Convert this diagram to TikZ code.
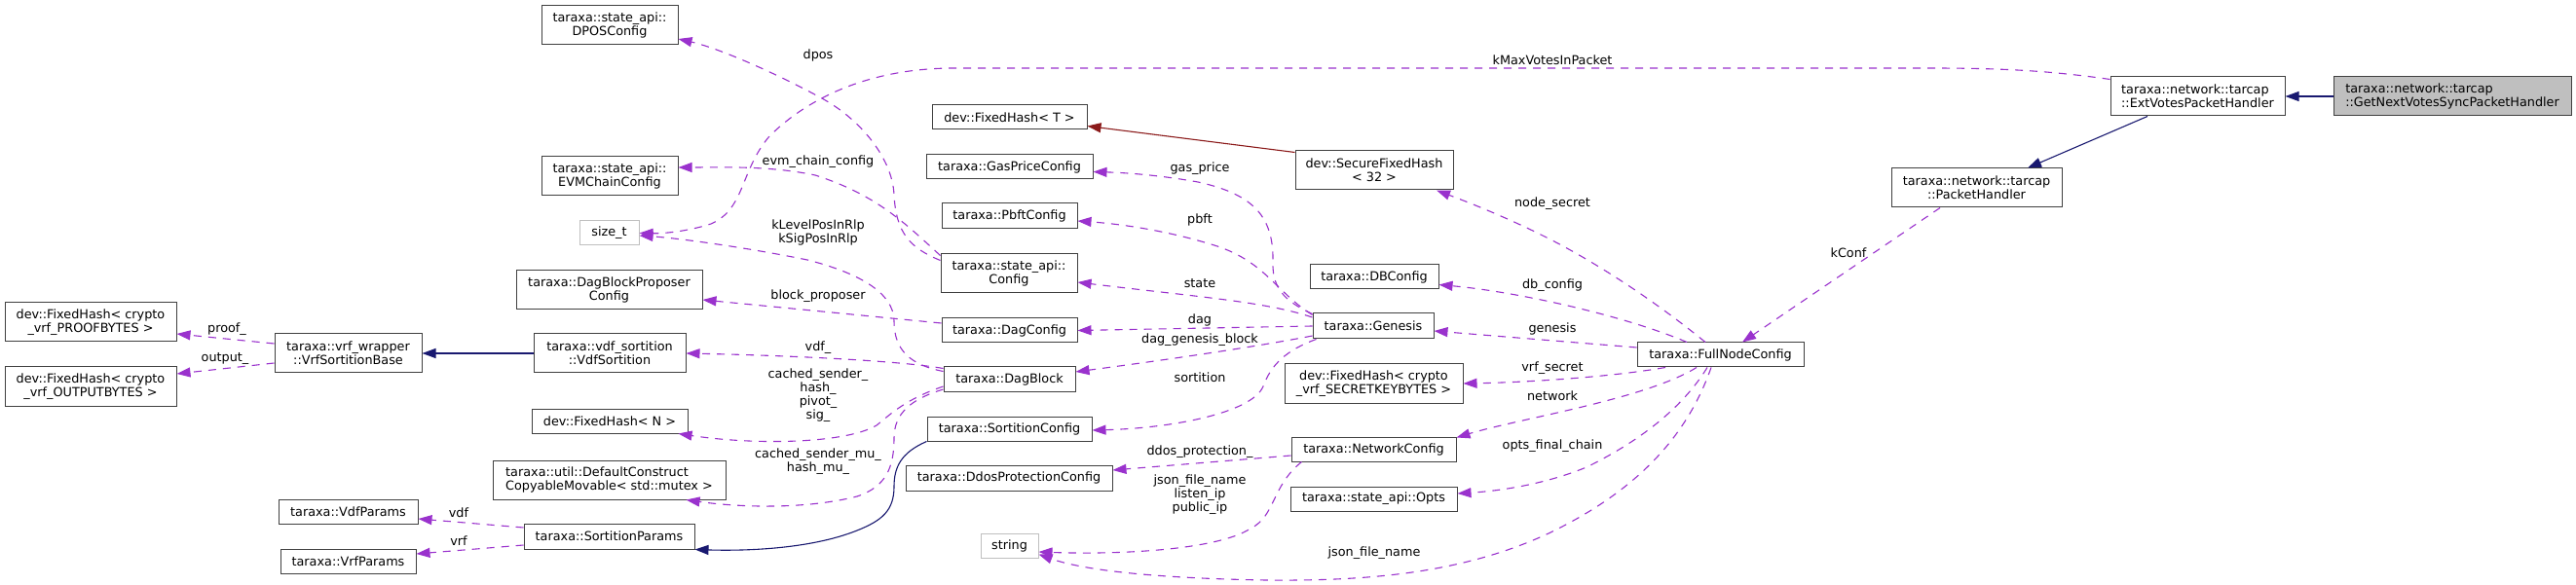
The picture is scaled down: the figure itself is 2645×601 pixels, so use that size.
\documentclass[tikz,border=0pt]{standalone}
\usepackage{fontspec}
\setmainfont{DejaVu Sans}
\usetikzlibrary{arrows.meta}
\definecolor{edgeuse}{HTML}{9A32CD}
\definecolor{edgeinh}{HTML}{191970}
\definecolor{edgepriv}{HTML}{8B1A1A}
\definecolor{greyfill}{HTML}{BFBFBF}
\definecolor{boxline}{HTML}{404040}
\begin{document}
\begin{tikzpicture}[x=1pt,y=-1pt,
  font=\fontsize{12.8}{14}\selectfont,
  box/.style n args={2}{draw=boxline, line width=1pt, inner sep=0pt, minimum width=#1, minimum height=#2, align=center},
  lbox/.style n args={2}{box={#1}{#2}, align=left},
  gbox/.style n args={2}{box={#1}{#2}, draw=greyfill},
  mainbox/.style n args={2}{box={#1}{#2}, fill=greyfill, align=left},
  lbl/.style={inner sep=0pt, align=center},
  usage/.style={draw=edgeuse, line width=1.1pt, dash pattern=on 8pt off 7pt, -{Triangle[length=14pt,width=10pt,fill=edgeuse]}},
  inh/.style={draw=edgeinh, line width=1.1pt, -{Triangle[length=14pt,width=10pt,fill=edgeinh]}},
  priv/.style={draw=edgepriv, line width=1.1pt, -{Triangle[length=14pt,width=10pt,fill=edgepriv]}}
]
\useasboundingbox (0,0) rectangle (2645,601);
\fill[white] (0,0) rectangle (2645,601);

% nodes
\node[box={140pt}{40pt}] (dpos) at (626,26) {taraxa::state\_api::\\DPOSConfig};
\node[box={140pt}{40pt}] (evm) at (626,181) {taraxa::state\_api::\\EVMChainConfig};
\node[gbox={61pt}{25pt}] (sizet) at (625.5,239.5) {size\_t};
\node[box={191pt}{40pt}] (dbpc) at (625.5,298) {taraxa::DagBlockProposer\\Config};
\node[box={176pt}{40pt}] (proof) at (93,331) {dev::FixedHash< crypto\\\_vrf\_PROOFBYTES >};
\node[box={176pt}{40pt}] (output) at (93,397) {dev::FixedHash< crypto\\\_vrf\_OUTPUTBYTES >};
\node[box={151pt}{40pt}] (vrfbase) at (357.5,363) {taraxa::vrf\_wrapper\\::VrfSortitionBase};
\node[box={156pt}{40pt}] (vdfsort) at (626,363) {taraxa::vdf\_sortition\\::VdfSortition};
\node[box={160pt}{25pt}] (fhN) at (626,432.5) {dev::FixedHash< N >};
\node[lbox={239pt}{40pt}] (dcm) at (625.5,493) {taraxa::util::DefaultConstruct\\CopyableMovable< std::mutex >};
\node[box={143pt}{25pt}] (vdfp) at (357.5,525.5) {taraxa::VdfParams};
\node[box={139pt}{25pt}] (vrfp) at (357.5,576.5) {taraxa::VrfParams};
\node[box={175pt}{26pt}] (sortp) at (625.5,551) {taraxa::SortitionParams};

\node[box={159pt}{25pt}] (fhT) at (1036.5,120.5) {dev::FixedHash< T >};
\node[box={171pt}{25pt}] (gasp) at (1036.5,171.5) {taraxa::GasPriceConfig};
\node[box={139pt}{26pt}] (pbft) at (1036.5,222) {taraxa::PbftConfig};
\node[box={140pt}{40pt}] (sconf) at (1036,281) {taraxa::state\_api::\\Config};
\node[box={139pt}{25pt}] (dagc) at (1036.5,339.5) {taraxa::DagConfig};
\node[box={135pt}{26pt}] (dagb) at (1036.5,390) {taraxa::DagBlock};
\node[box={169pt}{25pt}] (sortc) at (1036.5,440.5) {taraxa::SortitionConfig};
\node[box={212pt}{26pt}] (ddos) at (1036,491) {taraxa::DdosProtectionConfig};
\node[gbox={59pt}{25pt}] (string) at (1036.5,560.5) {string};

\node[box={162pt}{40pt}] (sfh) at (1411,175) {dev::SecureFixedHash\\< 32 >};
\node[box={132pt}{25pt}] (dbc) at (1411,284.5) {taraxa::DBConfig};
\node[box={124pt}{26pt}] (gen) at (1410,335) {taraxa::Genesis};
\node[box={183pt}{40pt}] (fhS) at (1410.5,394) {dev::FixedHash< crypto\\\_vrf\_SECRETKEYBYTES >};
\node[box={169pt}{25pt}] (netc) at (1410.5,461.5) {taraxa::NetworkConfig};
\node[box={171pt}{25pt}] (opts) at (1410.5,512.5) {taraxa::state\_api::Opts};

\node[box={171pt}{25pt}] (fnc) at (1766.5,364.5) {taraxa::FullNodeConfig};
\node[box={175pt}{40pt}] (ph) at (2029.5,193) {taraxa::network::tarcap\\::PacketHandler};
\node[lbox={179pt}{40pt}] (ext) at (2256.5,99) {taraxa::network::tarcap\\::ExtVotesPacketHandler};
\node[mainbox={244pt}{40pt}] (main) at (2518,99) {taraxa::network::tarcap\\::GetNextVotesSyncPacketHandler};

% inheritance
\draw[inh] (main.west) -- (ext.east);
\draw[inh] ([xshift=-51.5pt]ext.south) -- ([xshift=52.5pt]ph.north);
\draw[inh] (vdfsort.west) -- (vrfbase.east);
\draw[inh] (sortc.south west) .. controls (925,465) and (918,480) .. (918,500)
   .. controls (918,525) and (905,535) .. (880,545)
   .. controls (830,565) and (760,566) .. (sortp.south east);
\draw[priv] ([yshift=-2pt]sfh.north west) -- ([yshift=4pt]fhT.south east);

% usage
\draw[usage] ([yshift=-3pt]ext.north west) .. controls (2100,72) and (2050,70) .. (1980,70)
   -- (980,70) .. controls (880,70) and (820,110) .. (790,140)
   .. controls (760,175) and (765,215) .. (730,230)
   .. controls (705,238) and (680,240) .. (sizet.east);
\draw[usage] ([xshift=-37.5pt]ph.south) -- ([xshift=22.5pt]fnc.north);
\draw[usage] ([xshift=-15.5pt]fnc.north) .. controls (1700,310) and (1640,270) .. (1586,243)
   .. controls (1540,220) and (1500,205) .. ([xshift=64pt]sfh.south);
\draw[usage] ([xshift=-34.5pt]fnc.north) .. controls (1670,325) and (1560,300) .. ([yshift=-8pt]dbc.east);
\draw[usage] ([yshift=7.5pt]fnc.west) -- ([yshift=-5pt]gen.east);
\draw[usage] ([xshift=-56.5pt]fnc.south) .. controls (1650,388) and (1560,393) .. (fhS.east);
\draw[usage] ([xshift=-24.5pt]fnc.south) .. controls (1690,410) and (1560,430) .. ([yshift=-1pt]netc.north east);
\draw[usage] ([xshift=-13.5pt]fnc.south) .. controls (1730,415) and (1690,450) .. (1629,480)
   .. controls (1580,500) and (1530,505) .. ([yshift=5.5pt]opts.east);
\draw[usage] ([xshift=-9.5pt]fnc.south) .. controls (1735,440) and (1690,500) .. (1590,548)
   .. controls (1500,590) and (1400,597) .. (1300,596)
   .. controls (1180,594) and (1110,585) .. ([yshift=-9pt]string.east);
\draw[usage] ([yshift=-6.5pt]netc.west) -- ([yshift=8pt]ddos.east);
\draw[usage] ([xshift=11pt]netc.south west) .. controls (1305,500) and (1310,530) .. (1284,543)
   .. controls (1250,565) and (1150,570) .. ([yshift=-6.5pt]string.east);

\draw[usage] ([yshift=-1pt]gen.north west) .. controls (1325,312) and (1306,300) .. (1307,270)
   .. controls (1308,225) and (1290,200) .. (1230,187)
   .. controls (1180,178) and (1140,177) .. ([yshift=-5pt]gasp.east);
\draw[usage] ([yshift=-2pt]gen.north west) .. controls (1310,300) and (1300,270) .. (1250,253)
   .. controls (1200,237) and (1150,230) .. ([yshift=-5pt]pbft.east);
\draw[usage] ([yshift=9pt]gen.west) .. controls (1300,310) and (1230,305) .. ([yshift=-9pt]sconf.east);
\draw[usage] (gen.west) -- (dagc.east);
\draw[usage] ([yshift=-10pt]gen.west) .. controls (1280,358) and (1180,372) .. ([yshift=8pt]dagb.east);
\draw[usage] ([xshift=4pt]gen.south west) .. controls (1320,360) and (1305,375) .. (1297,397)
   .. controls (1285,425) and (1200,440) .. ([yshift=-1.5pt]sortc.east);

\draw[usage] ([yshift=-7pt]sconf.north west) .. controls (935,255) and (920,240) .. (918,200)
   .. controls (916,160) and (880,120) .. (842,100)
   .. controls (800,77) and (740,50) .. ([yshift=-14pt]dpos.east);
\draw[usage] ([yshift=-2pt]sconf.north west) .. controls (930,230) and (900,200) .. (837,180)
   .. controls (790,170) and (740,172) .. ([yshift=9pt]evm.east);

\draw[usage] ([yshift=-5pt]dagb.north west) .. controls (935,375) and (918,360) .. (918,330)
   .. controls (918,300) and (880,280) .. (829,267)
   .. controls (770,255) and (700,245) .. ([yshift=-2.5pt]sizet.east);
\draw[usage] ([yshift=7.5pt]dagc.west) -- ([yshift=-10pt]dbpc.east);
\draw[usage] ([yshift=-2pt]dagb.north west) .. controls (920,370) and (800,365) .. (vdfsort.east);
\draw[usage] ([yshift=-7pt]dagb.west) .. controls (930,410) and (915,425) .. (900,437)
   .. controls (870,455) and (780,458) .. ([xshift=-10pt]fhN.south east);
\draw[usage] ([yshift=-10pt]dagb.west) .. controls (935,410) and (918,425) .. (918,450)
   .. controls (918,480) and (910,500) .. (880,510)
   .. controls (820,525) and (750,520) .. ([xshift=-41pt]dcm.south east);

\draw[usage] ([yshift=10pt]vrfbase.west) -- ([yshift=-12pt]proof.east);
\draw[usage] ([yshift=-10pt]vrfbase.west) -- ([yshift=13pt]output.east);
\draw[usage] ([yshift=9pt]sortp.west) -- ([yshift=-7.5pt]vdfp.east);
\draw[usage] ([yshift=-9pt]sortp.west) -- ([yshift=7.5pt]vrfp.east);

% labels
\node[lbl] (l1) at (233,338) {proof\_};
\node[lbl] (l2) at (231,369) {output\_};
\node[lbl] (l3) at (471,527) {vdf};
\node[lbl] (l4) at (471,556) {vrf};
\node[lbl] (l5) at (840,57) {dpos};
\node[lbl] (l6) at (840,166) {evm\_chain\_config};
\node[lbl] (l7) at (840,238.5) {kLevelPosInRlp\\kSigPosInRlp};
\node[lbl] (l8) at (840,304) {block\_proposer};
\node[lbl] (l9) at (840,357) {vdf\_};
\node[lbl] (l10) at (840,406.5) {cached\_sender\_\\hash\_\\pivot\_\\sig\_};
\node[lbl] (l11) at (840,474) {cached\_sender\_mu\_\\hash\_mu\_};
\node[lbl] (l12) at (1594,62) {kMaxVotesInPacket};
\node[lbl] (l13) at (1232,173) {gas\_price};
\node[lbl] (l14) at (1232,226) {pbft};
\node[lbl] (l15) at (1232,291) {state};
\node[lbl] (l16) at (1232,329) {dag};
\node[lbl] (l17) at (1232,349) {dag\_genesis\_block};
\node[lbl] (l18) at (1232,388) {sortition};
\node[lbl] (l19) at (1232,464) {ddos\_protection\_};
\node[lbl] (l20) at (1232,508) {json\_file\_name\\listen\_ip\\public\_ip};
\node[lbl] (l21) at (1594,209) {node\_secret};
\node[lbl] (l22) at (1594,293) {db\_config};
\node[lbl] (l23) at (1594,338) {genesis};
\node[lbl] (l24) at (1594,378) {vrf\_secret};
\node[lbl] (l25) at (1594,407) {network};
\node[lbl] (l26) at (1594,458) {opts\_final\_chain};
\node[lbl] (l27) at (1411,568) {json\_file\_name};
\node[lbl] (l28) at (1898,260) {kConf};
\end{tikzpicture}
\end{document}
